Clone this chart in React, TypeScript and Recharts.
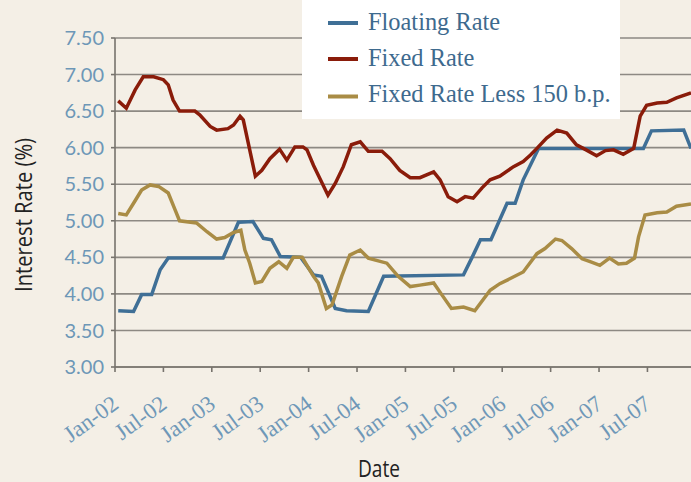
import React from 'react';
import { LineChart, Line, XAxis, YAxis, CartesianGrid, Legend } from 'recharts';

const tickMonths = [0, 6, 12, 18, 24, 30, 36, 42, 48, 54, 60, 66];
const tickLabels = ['Jan-02', 'Jul-02', 'Jan-03', 'Jul-03', 'Jan-04', 'Jul-04', 'Jan-05', 'Jul-05', 'Jan-06', 'Jul-06', 'Jan-07', 'Jul-07'];
const yTicks = [3, 3.5, 4, 4.5, 5, 5.5, 6, 6.5, 7, 7.5];

const floatingMonths = [0.4, 2.3, 3.3, 4.55, 5.6, 6.6, 13.4, 15.3, 17.1, 18.4, 19.4, 20.5, 23.0, 24.6, 25.6, 27.3, 28.7, 31.4, 33.3, 43.2, 44.4, 45.3, 46.6, 48.6, 49.6, 50.6, 52.5, 65.5, 66.5, 70.5, 71.4];
const floatingValues = [3.77, 3.76, 3.99, 3.99, 4.33, 4.49, 4.49, 4.98, 4.99, 4.76, 4.74, 4.51, 4.50, 4.26, 4.24, 3.80, 3.77, 3.76, 4.24, 4.26, 4.53, 4.74, 4.74, 5.24, 5.24, 5.56, 5.99, 5.99, 6.23, 6.24, 5.99];

const fixedMonths = [0.4, 1.4, 2.5, 3.5, 4.8, 6.0, 6.6, 7.2, 8.0, 9.9, 10.5, 11.8, 12.6, 14.0, 14.7, 15.5, 15.9, 16.7, 17.4, 18.2, 19.2, 20.4, 21.3, 22.3, 23.3, 23.8, 24.6, 26.4, 27.3, 28.3, 29.3, 30.4, 31.4, 33.1, 34.1, 35.3, 36.6, 37.8, 39.5, 40.3, 41.3, 42.4, 43.4, 44.4, 45.5, 46.5, 47.7, 49.4, 50.6, 51.5, 52.3, 53.5, 54.8, 56.0, 57.2, 58.4, 59.7, 60.8, 61.8, 63.0, 64.3, 65.1, 65.9, 67.2, 68.4, 69.6, 71.4];
const fixedValues = [6.64, 6.54, 6.79, 6.97, 6.97, 6.93, 6.86, 6.65, 6.50, 6.50, 6.45, 6.29, 6.24, 6.26, 6.31, 6.43, 6.38, 5.97, 5.61, 5.69, 5.85, 5.98, 5.83, 6.01, 6.01, 5.97, 5.76, 5.35, 5.51, 5.74, 6.04, 6.08, 5.95, 5.95, 5.85, 5.69, 5.59, 5.59, 5.67, 5.56, 5.33, 5.26, 5.33, 5.31, 5.45, 5.56, 5.61, 5.74, 5.81, 5.90, 5.99, 6.13, 6.24, 6.20, 6.04, 5.97, 5.89, 5.96, 5.97, 5.91, 5.99, 6.43, 6.58, 6.61, 6.62, 6.68, 6.75];

const lessMonths = [0.4, 1.4, 2.3, 3.3, 4.35, 5.4, 6.6, 7.45, 8.0, 10.1, 11.4, 12.6, 13.6, 14.7, 15.6, 16.1, 16.7, 17.4, 18.2, 19.2, 20.3, 21.3, 22.1, 23.2, 24.6, 25.2, 26.2, 26.9, 28.1, 29.1, 30.4, 31.4, 33.7, 35.1, 36.6, 37.8, 39.5, 40.5, 41.7, 43.2, 44.6, 46.5, 47.7, 49.0, 50.6, 52.3, 53.3, 54.6, 55.4, 56.6, 57.9, 58.9, 60.1, 61.3, 62.4, 63.4, 64.4, 64.9, 65.7, 67.2, 68.4, 69.6, 71.4];
const lessValues = [5.10, 5.08, 5.24, 5.42, 5.49, 5.47, 5.38, 5.15, 5.00, 4.97, 4.85, 4.75, 4.77, 4.84, 4.87, 4.60, 4.42, 4.15, 4.17, 4.35, 4.44, 4.35, 4.50, 4.50, 4.24, 4.15, 3.80, 3.85, 4.24, 4.53, 4.60, 4.49, 4.42, 4.24, 4.10, 4.12, 4.15, 3.99, 3.80, 3.82, 3.77, 4.05, 4.14, 4.21, 4.30, 4.55, 4.62, 4.75, 4.73, 4.62, 4.48, 4.44, 4.39, 4.49, 4.41, 4.42, 4.49, 4.78, 5.08, 5.11, 5.12, 5.20, 5.23];

const seriesNames = ['Floating Rate', 'Fixed Rate', 'Fixed Rate Less 150 b.p.'];
const seriesColors = ['#3f6f96', '#8a1c0a', '#a98c45'];

const toRows = (ms: number[], vs: number[]) => ms.map((m, i) => ({ m, v: vs[i] }));
const floatingData = toRows(floatingMonths, floatingValues);
const fixedData = toRows(fixedMonths, fixedValues);
const lessData = toRows(lessMonths, lessValues);

const XTick = (props: any) => {
  const { x, payload } = props;
  const idx = tickMonths.indexOf(payload.value);
  const label = idx >= 0 ? tickLabels[idx] : '';
  const ax = x + 5;
  const ay = 407;
  return (
    <text
      x={ax}
      y={ay}
      textAnchor="end"
      fill="#6f98b8"
      fontFamily="'Liberation Serif', serif"
      fontSize={23}
      transform={`rotate(-36, ${ax}, ${ay})`}
    >
      {label}
    </text>
  );
};

const LegendContent = (props: any) => {
  const payload = props.payload || [];
  const rows = [
    { ly: 23, ty: 30 },
    { ly: 59, ty: 66 },
    { ly: 96.5, ty: 102 },
  ];
  return (
    <svg width={318} height={119} style={{ display: 'block' }}>
      <rect x={0} y={0} width={318} height={119} fill="#ffffff" />
      {seriesNames.map((name, i) => {
        const p = payload.find((e: any) => e.value === name);
        const color = p ? p.color : seriesColors[i];
        return (
          <g key={name}>
            <line x1={26} x2={56} y1={rows[i].ly} y2={rows[i].ly} stroke={color} strokeWidth={4} />
            <text x={66} y={rows[i].ty} fill="#3e6a8e" fontFamily="'Liberation Serif', serif" fontSize={24.4}>
              {name}
            </text>
          </g>
        );
      })}
    </svg>
  );
};

export default function App() {
  return (
    <div style={{ position: 'absolute', left: 0, top: 0, width: 691, height: 482, background: '#f4efe6' }}>
      <LineChart width={691} height={482} margin={{ top: 38, right: 0, bottom: 0, left: 0 }}>
        <CartesianGrid vertical={false} stroke="#8d8983" strokeWidth={1.6} />
        <XAxis
          type="number"
          dataKey="m"
          domain={[0, 71.4]}
          ticks={tickMonths}
          allowDataOverflow
          interval={0}
          tick={<XTick />}
          tickSize={5}
          axisLine={{ stroke: '#77736d', strokeWidth: 1.6 }}
          tickLine={{ stroke: '#77736d', strokeWidth: 1.6 }}
          height={115}
          label={{
            content: () => (
              <text x={379} y={476.5} textAnchor="middle" fill="#222" fontFamily="'Open Sans', sans-serif" fontSize={23} textLength={42} lengthAdjust="spacingAndGlyphs">
                Date
              </text>
            ),
          }}
        />
        <YAxis
          type="number"
          domain={[3, 7.5]}
          ticks={yTicks}
          width={115}
          tickFormatter={(v: number) => v.toFixed(2)}
          tick={{ fill: '#6d97b7', fontFamily: 'Lato, sans-serif', fontSize: 20 }}
          tickSize={4}
          tickMargin={7}
          axisLine={{ stroke: '#77736d', strokeWidth: 1.6 }}
          tickLine={{ stroke: '#77736d', strokeWidth: 1.6 }}
          label={{
            content: () => (
              <text x={32} y={215} textAnchor="middle" fill="#222" fontFamily="'Open Sans', sans-serif" fontSize={24} textLength={154} lengthAdjust="spacingAndGlyphs" transform="rotate(-90, 32, 215)">
                Interest Rate (%)
              </text>
            ),
          }}
        />
        <Legend
          layout="vertical"
          align="center"
          verticalAlign="middle"
          content={<LegendContent />}
          wrapperStyle={{ left: 302, top: 0, width: 318, height: 119 }}
        />
        <Line data={floatingData} dataKey="v" name={seriesNames[0]} stroke={seriesColors[0]} strokeWidth={3.5} dot={false} isAnimationActive={false} />
        <Line data={fixedData} dataKey="v" name={seriesNames[1]} stroke={seriesColors[1]} strokeWidth={3.5} dot={false} isAnimationActive={false} />
        <Line data={lessData} dataKey="v" name={seriesNames[2]} stroke={seriesColors[2]} strokeWidth={3.5} dot={false} isAnimationActive={false} />
      </LineChart>
    </div>
  );
}
